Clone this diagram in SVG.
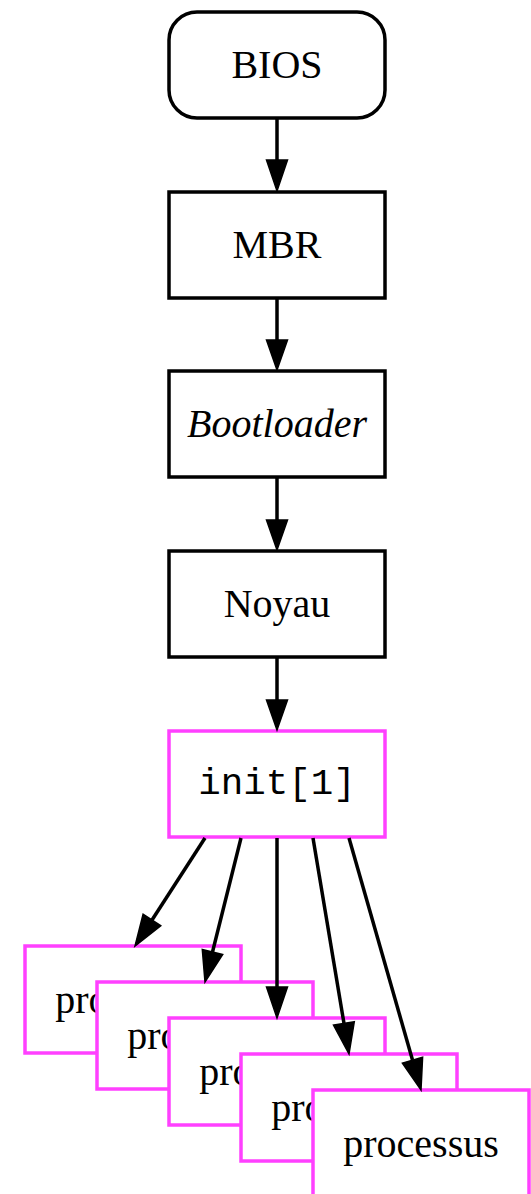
<svg xmlns="http://www.w3.org/2000/svg" width="531" height="1194" viewBox="0 0 531 1194">
<defs>
<style>
.n{fill:#fff;stroke:#000;stroke-width:3.5}
.p{fill:#fff;stroke:#ff40ff;stroke-width:3.5}
.t{font-family:"Liberation Serif","Times New Roman",serif;font-size:40px;text-anchor:middle;fill:#000}
.m{font-family:"Liberation Mono","Courier New",monospace;font-size:37.5px;text-anchor:middle;fill:#000}
.e{stroke:#000;stroke-width:3.5;fill:none}
.h{fill:#000;stroke:#000;stroke-width:1.5;stroke-linejoin:miter}
</style>
</defs>
<rect width="531" height="1194" fill="#fff"/>
<g id="bios"><rect class="n" x="169" y="12" width="216" height="106" rx="28"/><text class="t" x="277" y="78">BIOS</text></g>
<g id="mbr"><rect class="n" x="169" y="192" width="216" height="106"/><text class="t" x="277" y="258">MBR</text></g>
<g id="bootloader"><rect class="n" x="169" y="371" width="216" height="106"/><text class="t" x="277" y="437" font-style="italic">Bootloader</text></g>
<g id="noyau"><rect class="n" x="169" y="551" width="216" height="106"/><text class="t" x="277" y="617">Noyau</text></g>
<g id="init"><rect class="p" x="169" y="731" width="216" height="106"/><text class="m" x="277" y="794">init[1]</text></g>
<g id="proc1"><rect class="p" x="25" y="946" width="216" height="107"/><text class="t" x="133" y="1013">processus</text></g>
<g id="proc2"><rect class="p" x="97" y="982" width="216" height="107"/><text class="t" x="205" y="1049">processus</text></g>
<g id="proc3"><rect class="p" x="169" y="1018" width="216" height="107"/><text class="t" x="277" y="1085">processus</text></g>
<g id="proc4"><rect class="p" x="241" y="1054" width="216" height="107"/><text class="t" x="349" y="1121">processus</text></g>
<g id="proc5"><rect class="p" x="313" y="1090" width="216" height="107"/><text class="t" x="421" y="1157">processus</text></g>
<g id="edges">
<line class="e" x1="277" y1="118" x2="277" y2="161"/><polygon class="h" points="266.5,160 287.5,160 277,191"/>
<line class="e" x1="277" y1="298" x2="277" y2="341"/><polygon class="h" points="266.5,340 287.5,340 277,370"/>
<line class="e" x1="277" y1="477" x2="277" y2="521"/><polygon class="h" points="266.5,520 287.5,520 277,550"/>
<line class="e" x1="277" y1="657" x2="277" y2="701"/><polygon class="h" points="266.5,700 287.5,700 277,730"/>
<line class="e" x1="205" y1="838" x2="152" y2="920"/><polygon class="h" points="160.7,925.7 143.1,914.3 135,946"/>
<line class="e" x1="241" y1="838" x2="212.5" y2="952"/><polygon class="h" points="222.7,954.4 202.3,949.4 205,982"/>
<line class="e" x1="277" y1="838" x2="277" y2="988"/><polygon class="h" points="266.5,987 287.5,987 277,1018"/>
<line class="e" x1="313" y1="838" x2="344" y2="1023.5"/><polygon class="h" points="354.3,1021.7 333.5,1025.1 349,1054"/>
<line class="e" x1="349" y1="838" x2="412.5" y2="1060"/><polygon class="h" points="422.6,1057.3 402.4,1063.1 421,1090"/>
</g>
</svg>
